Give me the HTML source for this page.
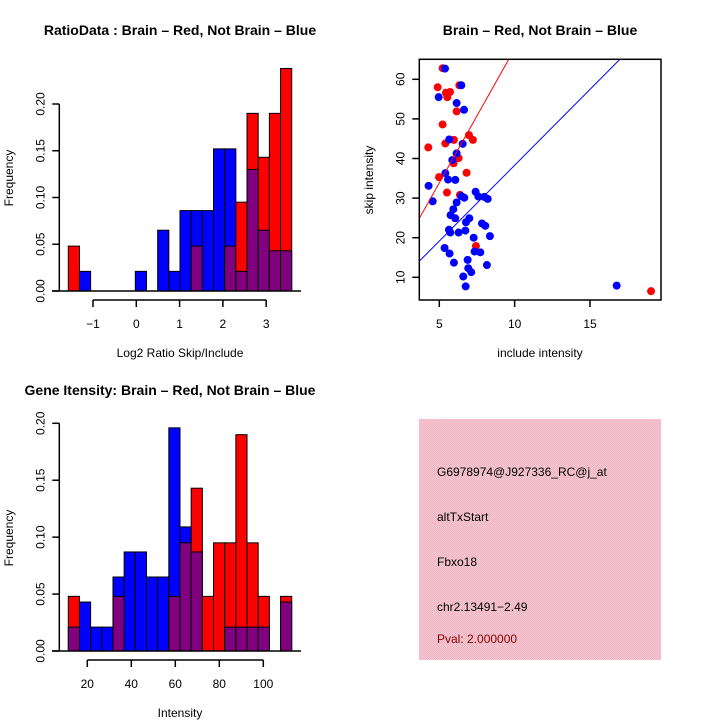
<!DOCTYPE html>
<html><head><meta charset="utf-8"><style>
html,body{margin:0;padding:0;background:#fff;}
svg{display:block;font-family:"Liberation Sans",sans-serif;}
</style></head><body>
<svg id="fig" width="720" height="720" viewBox="0 0 720 720" xmlns="http://www.w3.org/2000/svg">
<rect width="720" height="720" fill="#fff"/>
<g id="p1"></g>
<g id="p2"></g>
<g id="p3"></g>
<g id="p4">
<defs><pattern id="hatch" width="2" height="2" patternUnits="userSpaceOnUse"><rect width="2" height="2" fill="#f6c8d2"/><rect width="1" height="1" fill="#eeb4c2"/><rect x="1" y="1" width="1" height="1" fill="#eeb4c2"/></pattern></defs>
<rect x="419" y="419" width="242" height="241" fill="url(#hatch)"/>
<text x="437" y="476" font-size="12" fill="#000">G6978974@J927336_RC@j_at</text>
<text x="437" y="521" font-size="12" fill="#000">altTxStart</text>
<text x="437" y="566" font-size="12" fill="#000">Fbxo18</text>
<text x="437" y="611" font-size="12" fill="#000">chr2.13491−2.49</text>
<text x="437" y="643" font-size="12" fill="#8b0000">Pval: 2.000000</text>
</g>
</svg>
<script>
// ---- data: ratio histogram ----
const ratioRed  = [0.048,0,0,0,0,0,0,0,0,0,0,0.048,0,0,0.048,0.095,0.190,0.143,0.190,0.238];
const ratioBlue = [0,0.021,0,0,0,0,0.021,0,0.065,0.021,0.086,0.086,0.086,0.152,0.152,0.021,0.130,0.065,0.043,0.043];
const ratioXTicks = [-1,0,1,2,3];
const freqTicks = ["0.00","0.05","0.10","0.15","0.20"];
// ---- data: gene intensity histogram ----
const intRed  = [0.048,0,0,0,0.048,0,0,0,0,0.048,0.095,0.143,0.048,0.095,0.095,0.190,0.095,0.048,0,0.048];
const intBlue = [0.021,0.043,0.021,0.021,0.065,0.087,0.087,0.065,0.065,0.196,0.109,0.087,0,0,0.021,0.021,0.021,0.021,0,0.043];
const intXTicks = [20,40,60,80,100];
// ---- data: scatter ----
const redX = [5.22,4.89,5.44,5.71,5.53,6.33,6.15,5.22,6.97,7.23,5.97,5.4,4.27,6.28,5.95,6.81,4.98,5.51,6.37,7.43,19.05];
const redY = [62.8,58,56.6,56.8,55.5,58.5,51.9,48.6,45.9,44.7,44.7,43.8,42.8,40.1,38.8,36.4,35.3,31.4,30.8,17.9,6.5];
const blueX = [5.38,4.96,6.46,6.15,6.64,5.66,6.55,6.15,5.86,5.4,5.58,6.06,4.29,4.56,6.46,6.66,6.15,7.41,7.59,7.99,8.21,5.93,5.75,6.06,6.99,6.77,7.83,8.05,5.64,5.73,6.28,6.73,7.28,8.36,5.35,5.68,7.34,7.72,5.97,6.88,6.92,7.12,8.16,6.59,6.75,16.77];
const blueY = [62.7,55.5,58.5,54,52.3,44.8,43.7,41.3,39.6,36.3,34.7,34.6,33.1,29.2,30.5,30.1,28.9,31.6,30.4,30.3,29.8,27.2,25.7,24.9,24.9,23.9,23.6,23,22,21.3,21.3,21.8,20,20.4,17.4,16,16.5,16.3,13.7,14.4,12.3,11.3,13.1,10.2,7.7,7.9];
const slopes = [6.77,3.83];
const scXTicks = [5,10,15];
const scYTicks = [10,20,30,40,50,60];

const NS="http://www.w3.org/2000/svg";
function mk(parent,tag,attrs,txt){const e=document.createElementNS(NS,tag);for(const k in attrs)e.setAttribute(k,attrs[k]);if(txt!==undefined)e.textContent=txt;parent.appendChild(e);return e;}

function hist(g,red,blue,o){
  const sx=v=>o.x0+(v-o.t0)*o.pxu, sy=v=>o.base-v*o.pyu;
  const bw=(o.barR-o.barL)/red.length;
  for(let i=0;i<red.length;i++){
    const x=o.barL+i*bw, r=red[i], b=blue[i], m=Math.min(r,b);
    const draw=(v,c,nm)=>{if(v<=0)return;const e=mk(g,'rect',{x:x,y:sy(v),width:bw,height:sy(0)-sy(v),fill:c,stroke:'#000','stroke-width':1});
      
      };
    if(r>=b){draw(r,'#ff0000','bar-red-'+i);}else{draw(b,'#0000ff','bar-blue-'+i);}
    draw(m,'#800080','bar-overlap-'+i);
  }
  const bl=mk(g,'line',{x1:52,x2:301,y1:o.base,y2:o.base,stroke:'#000','stroke-width':1.5});
  
  
  // y axis
  const ytop=sy(0.2);
  mk(g,'line',{x1:o.yax,x2:o.yax,y1:o.base,y2:ytop,stroke:'#000','stroke-width':1.5});
  freqTicks.forEach((t,i)=>{const y=sy(parseFloat(t));
    mk(g,'line',{x1:o.yax-7,x2:o.yax,y1:y,y2:y,stroke:'#000','stroke-width':1.5});
    const tx=mk(g,'text',{x:0,y:0,'font-size':12,'text-anchor':'middle',transform:`translate(${o.yax-15},${y}) rotate(-90)`},t);
    
    
  });
  // x axis
  const xs=o.xt.map(sx);
  mk(g,'line',{x1:xs[0],x2:xs[xs.length-1],y1:o.xay,y2:o.xay,stroke:'#000','stroke-width':1.5});
  o.xt.forEach((t,i)=>{
    mk(g,'line',{x1:xs[i],x2:xs[i],y1:o.xay,y2:o.xay+7,stroke:'#000','stroke-width':1.5});
    const tx=mk(g,'text',{x:xs[i],y:o.xay+28,'font-size':12,'text-anchor':'middle'},t<0?'−'+(-t):t);
    
    
  });
}

const p1=document.getElementById('p1');
hist(p1,ratioRed,ratioBlue,{x0:136.3,t0:0,pxu:43.3,base:291,pyu:935,barL:68.3,barR:291.7,yax:59.3,xt:ratioXTicks,xay:300});
let t=mk(p1,'text',{x:180,y:35,'font-size':14,'font-weight':'bold','text-anchor':'middle'},'RatioData : Brain – Red, Not Brain – Blue');

t=mk(p1,'text',{x:180,y:357,'font-size':12,'text-anchor':'middle'},'Log2 Ratio Skip/Include');

t=mk(p1,'text',{x:0,y:0,'font-size':12,'text-anchor':'middle',transform:'translate(13,178) rotate(-90)'},'Frequency');


const p3=document.getElementById('p3');
hist(p3,intRed,intBlue,{x0:87.3,t0:20,pxu:2.2,base:651,pyu:1138.5,barL:68.3,barR:291.7,yax:59.3,xt:intXTicks,xay:660});
t=mk(p3,'text',{x:170,y:395,'font-size':14,'font-weight':'bold','text-anchor':'middle'},'Gene Itensity: Brain – Red, Not Brain – Blue');

t=mk(p3,'text',{x:180,y:717,'font-size':12,'text-anchor':'middle'},'Intensity');

t=mk(p3,'text',{x:0,y:0,'font-size':12,'text-anchor':'middle',transform:'translate(13,538) rotate(-90)'},'Frequency');


// scatter
const p2=document.getElementById('p2');
const L=419.3,R=661,T=59.3,B=300;
const sx=v=>439.3+(v-5)*15.07, sy=v=>79.3-(v-60)*3.96;
const ix=v=>5+(v-439.3)/15.07, iy=v=>60-(v-79.3)/3.96;
mk(p2,'defs',{}).innerHTML=`<clipPath id="clip2"><rect x="${L}" y="${T}" width="${R-L}" height="${B-T}"/></clipPath>`;
const cg=mk(p2,'g',{'clip-path':'url(#clip2)'});
function pts(xs,ys,c,nm){xs.forEach((x,i)=>{const e=mk(cg,'circle',{cx:sx(x),cy:sy(ys[i]),r:4,fill:c});
  
  });}
pts(redX,redY,'#ff0000','point-brain');
pts(blueX,blueY,'#0000ff','point-not-brain');
['#ff0000','#0000ff'].forEach((c,i)=>{const x1=ix(L),x2=ix(R);
  const e=mk(cg,'line',{x1:sx(x1),y1:sy(slopes[i]*x1),x2:sx(x2),y2:sy(slopes[i]*x2),stroke:c,'stroke-width':1});
  
  });
mk(p2,'rect',{x:L,y:T,width:R-L,height:B-T,fill:'none',stroke:'#000','stroke-width':1.5});
scXTicks.forEach(v=>{const x=sx(v);mk(p2,'line',{x1:x,x2:x,y1:B,y2:B+7,stroke:'#000','stroke-width':1.5});
  const e=mk(p2,'text',{x:x,y:B+28,'font-size':12,'text-anchor':'middle'},v);
  });
scYTicks.forEach(v=>{const y=sy(v);mk(p2,'line',{x1:L-7,x2:L,y1:y,y2:y,stroke:'#000','stroke-width':1.5});
  const e=mk(p2,'text',{x:0,y:0,'font-size':12,'text-anchor':'middle',transform:`translate(${L-15},${y}) rotate(-90)`},v);
  });
t=mk(p2,'text',{x:540,y:35,'font-size':14,'font-weight':'bold','text-anchor':'middle'},'Brain – Red, Not Brain – Blue');

t=mk(p2,'text',{x:540,y:357,'font-size':12,'text-anchor':'middle'},'include intensity');

t=mk(p2,'text',{x:0,y:0,'font-size':12,'text-anchor':'middle',transform:'translate(373,180) rotate(-90)'},'skip intensity');

</script>
</body></html>
